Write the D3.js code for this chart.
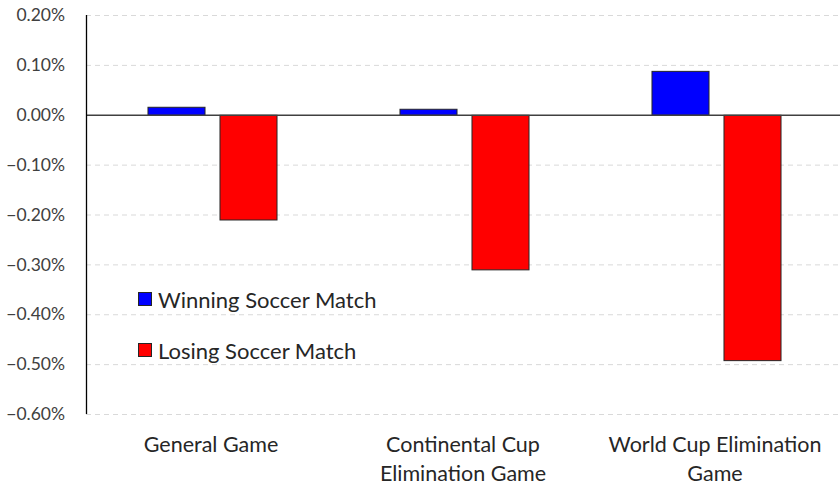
<!DOCTYPE html>
<html>
<head>
<meta charset="utf-8">
<script src="https://cdn.jsdelivr.net/npm/d3@7"></script>
<style>
  body { margin: 0; background: #fff; }
  svg { display: block; font-family: Lato, "Open Sans", sans-serif; }
</style>
</head>
<body>
<svg id="chart" width="840" height="485"></svg>
<script>
// Categories (label lines) and series values in percent
const categories = ["General Game", "Continental Cup Elimination Game", "World Cup Elimination Game"];
const categoryLines = [["General Game"], ["Continental Cup", "Elimination Game"], ["World Cup Elimination", "Game"]];
const seriesNames = ["Winning Soccer Match", "Losing Soccer Match"];
const winning = [0.016, 0.012, 0.088];
const losing = [-0.21, -0.31, -0.492];
const yTicks = [0.2, 0.1, 0.0, -0.1, -0.2, -0.3, -0.4, -0.5, -0.6];
const colors = ["#0000ff", "#ff0000"];

const svg = d3.select("#chart");
const margin = { left: 86, right: 0, top: 15, bottom: 71 };
const W = 840, H = 485;

const x = d3.scaleBand().domain(categories).range([margin.left, W - margin.right + 2]).paddingInner(0).paddingOuter(0);
const xs = d3.scaleBand().domain(seriesNames).range([0, x.bandwidth()]).paddingInner(0.208).paddingOuter(0.854);
const y = d3.scaleLinear().domain([-0.6, 0.2]).range([H - margin.bottom, margin.top]);

// gridlines
svg.append("g").selectAll("line").data(yTicks.filter(d => d !== 0)).join("line")
  .attr("x1", margin.left).attr("x2", W)
  .attr("y1", d => y(d) + 0.5).attr("y2", d => y(d) + 0.5)
  .attr("stroke", "#d9d9d9").attr("stroke-dasharray", "5,4").attr("stroke-width", 1);

// y tick labels
svg.append("g").selectAll("text").data(yTicks).join("text")
  .attr("x", 65).attr("y", d => y(d)).attr("dy", "0.35em")
  .attr("text-anchor", "end").attr("fill", "#404040").style("font-size", "17.5px")
  .text(d => d3.format(".2f")(d) + "%");

// bars
const rows = categories.map((c, i) => ({ c, vals: [winning[i], losing[i]] }));
const groups = svg.append("g").selectAll("g").data(rows).join("g")
  .attr("transform", d => `translate(${x(d.c)},0)`);
groups.selectAll("rect").data(d => d.vals.map((v, j) => ({ v, s: seriesNames[j], j }))).join("rect")
  .attr("x", d => xs(d.s) + 0.5)
  .attr("width", xs.bandwidth())
  .attr("y", d => Math.min(y(d.v), y(0)) + 0.5)
  .attr("height", d => Math.abs(y(d.v) - y(0)))
  .attr("fill", d => colors[d.j])
  .attr("stroke", "#262626").attr("stroke-width", 1);

// zero line
svg.append("line").attr("x1", margin.left).attr("x2", W)
  .attr("y1", y(0) + 0.5).attr("y2", y(0) + 0.5)
  .attr("stroke", "#404040").attr("stroke-width", 1.3);

// y axis line
svg.append("line").attr("x1", margin.left + 0.5).attr("x2", margin.left + 0.5)
  .attr("y1", y(0.2)).attr("y2", y(-0.6))
  .attr("stroke", "#000").attr("stroke-width", 1.3);

// category labels
const cl = svg.append("g").selectAll("text").data(categories).join("text")
  .attr("text-anchor", "middle").attr("fill", "#262626").style("font-size", "21.5px")
  .attr("x", d => x(d) + x.bandwidth() / 2 - 1)
  .attr("y", 452);
cl.selectAll("tspan").data((d, i) => categoryLines[i]).join("tspan")
  .attr("x", function () { return d3.select(this.parentNode).attr("x"); })
  .attr("dy", (d, i) => i === 0 ? 0 : 29)
  .text(d => d);

// legend
const legend = svg.append("g").selectAll("g").data(seriesNames).join("g")
  .attr("transform", (d, i) => `translate(138, ${292 + i * 51})`);
legend.append("rect").attr("x", 0.5).attr("y", 0.5).attr("width", 13).attr("height", 13)
  .attr("fill", (d, i) => colors[i]).attr("stroke", "#262626");
legend.append("text").attr("x", 20).attr("y", 8).attr("dy", "0.35em")
  .attr("fill", "#262626").style("font-size", "22px").text(d => d);
</script>
</body>
</html>
